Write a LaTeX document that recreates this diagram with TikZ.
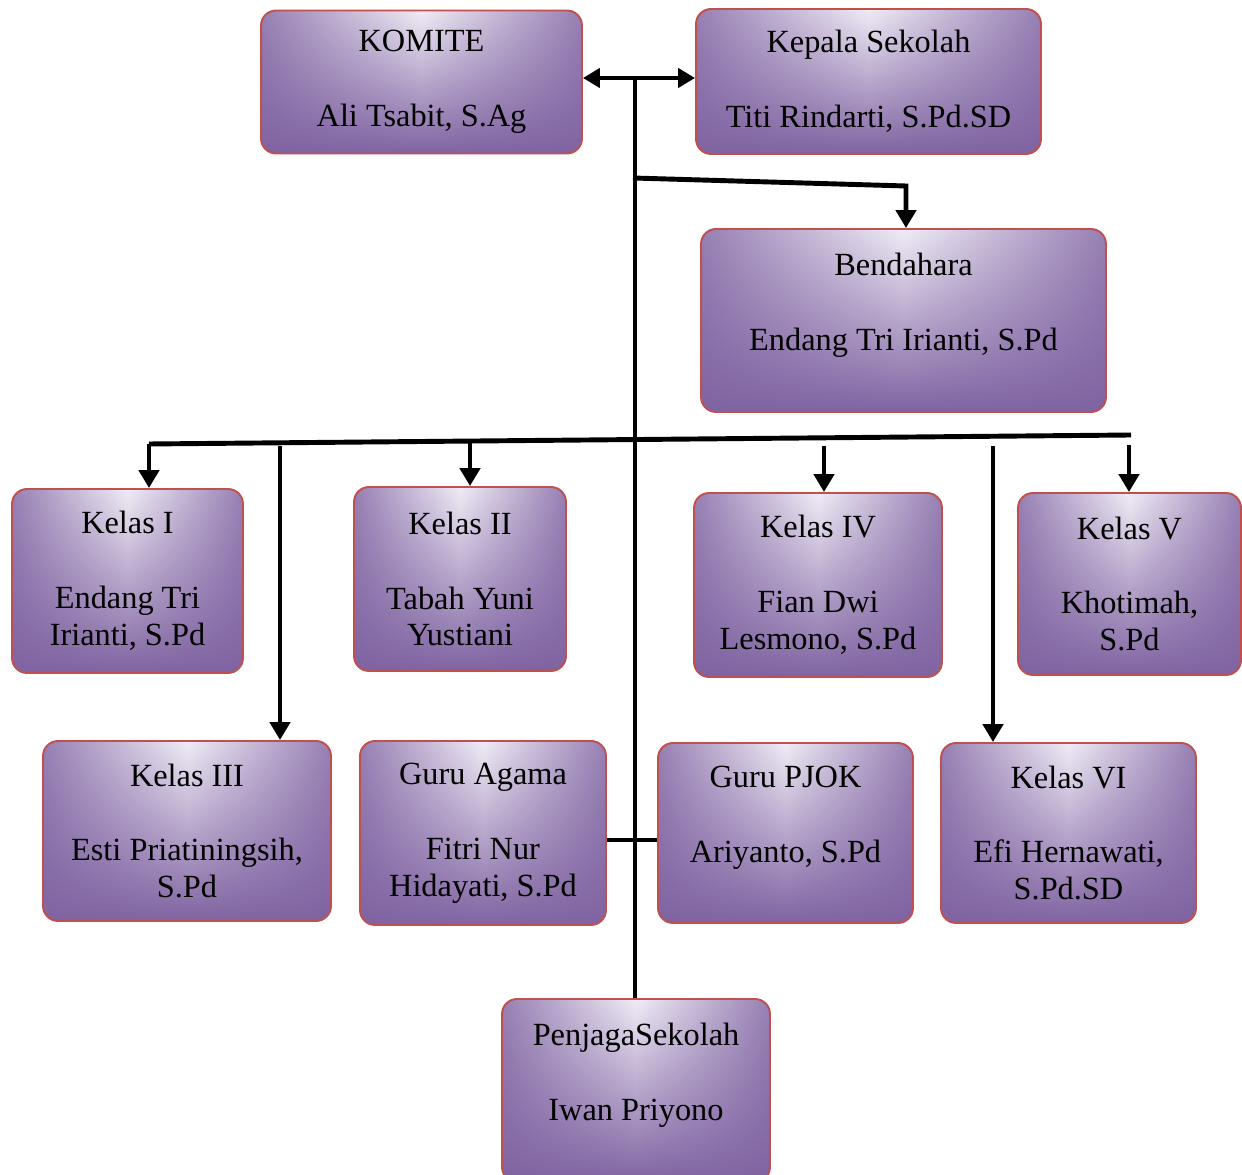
\documentclass[tikz,border=0pt]{standalone}
\usepackage{fontspec}
\setmainfont{Liberation Serif}
\usepackage{xcolor}
\usetikzlibrary{arrows.meta}
\usetikzlibrary{positioning,shapes}
\usetikzlibrary{calc,fadings}
\definecolor{purp}{HTML}{8064A2}
\definecolor{lilac}{HTML}{F0ECF6}
\definecolor{rim}{HTML}{C0504D}
\tikzfading[name=sidefade, left color=transparent!0, right color=transparent!0, middle color=transparent!100]
\begin{document}
\begin{tikzpicture}[x=0.02cm, y=-0.02cm, line width=2.8pt,
		main/.style = {draw=rim, line width=1.1pt, rounded corners=0.3cm, top color=lilac, bottom color=purp,
			align=center, font=\fontsize{18.4}{21}\selectfont, inner sep=0pt,
			path picture={\fill[purp, opacity=0.8, path fading=sidefade, fit fading=true] (path picture bounding box.south west) rectangle (path picture bounding box.north east);}},
		tip/.style = {-{Triangle[length=0.36cm, width=0.4cm]}}]
		\useasboundingbox (0,0) rectangle (1242,1175);
		\node[main, minimum width=6.42cm, minimum height=2.86cm] (komite) at (421.5, 82) {KOMITE\\[0.76cm]Ali Tsabit, S.Ag};
		\node[main, minimum width=6.9cm, minimum height=2.9cm] (kepsek) at (868.5, 81.5) {Kepala Sekolah\\[0.76cm]Titi Rindarti, S.Pd.SD};
		\node[main, minimum width=8.1cm, minimum height=3.66cm] (bendahara) at (903.5, 320.5) {Bendahara\\[0.76cm]Endang Tri Irianti, S.Pd\\\mbox{}};
		\node[main, minimum width=4.62cm, minimum height=3.68cm] (kelas1) at (127.5, 581) {Kelas I\\[0.76cm]Endang Tri\\Irianti, S.Pd};
		\node[main, minimum width=4.24cm, minimum height=3.68cm] (kelas2) at (460, 579) {Kelas II\\[0.76cm]Tabah Yuni\\Yustiani};
		\node[main, minimum width=4.96cm, minimum height=3.68cm] (kelas4) at (818, 585) {Kelas IV\\[0.76cm]Fian Dwi\\Lesmono, S.Pd};
		\node[main, minimum width=4.46cm, minimum height=3.64cm] (kelas5) at (1129.5, 584) {Kelas V\\[0.76cm]Khotimah,\\S.Pd};
		\node[main, minimum width=5.76cm, minimum height=3.6cm] (kelas3) at (187, 831) {Kelas III\\[0.76cm]Esti Priatiningsih,\\S.Pd};
		\node[main, minimum width=4.92cm, minimum height=3.68cm] (agama) at (483, 833) {Guru Agama\\[0.76cm]Fitri Nur\\Hidayati, S.Pd};
		\node[main, minimum width=5.1cm, minimum height=3.6cm] (pjok) at (785.5, 833) {Guru PJOK\\[0.76cm]Ariyanto, S.Pd\\\mbox{}};
		\node[main, minimum width=5.1cm, minimum height=3.6cm] (kelas6) at (1068.5, 833) {Kelas VI\\[0.76cm]Efi Hernawati,\\S.Pd.SD};
		\node[main, minimum width=5.36cm, minimum height=3.66cm] (penjaga) at (636, 1090.5) {PenjagaSekolah\\[0.76cm]Iwan Priyono\\\mbox{}};
		\coordinate (top) at (635, 78);
		\coordinate (b0) at (633, 178);
		\coordinate (b1) at (906, 186);
		\coordinate (h1) at (149, 444);
		\coordinate (h2) at (1131, 435);
		\coordinate (k2) at (470, 442);
		\coordinate (k3) at (280, 446);
		\coordinate (k4) at (824, 446);
		\coordinate (k5) at (1129, 445);
		\coordinate (k6) at (993, 446);
		\draw (top) -- (top |- penjaga.north);
		\draw[{Triangle[length=0.34cm, width=0.38cm]}-{Triangle[length=0.34cm, width=0.38cm]}] (komite.east |- top) -- (kepsek.west |- top);
		\draw[tip] (b0) -- (b1) -- (b1 |- bendahara.north);
		\draw (h1) -- (h2);
		\draw[tip] (h1) -- (h1 |- kelas1.north);
		\draw[tip] (k2) -- (k2 |- kelas2.north);
		\draw[tip] (k3) -- (k3 |- kelas3.north);
		\draw[tip] (k4) -- (k4 |- kelas4.north);
		\draw[tip] (k5) -- (k5 |- kelas5.north);
		\draw[tip] (k6) -- (k6 |- kelas6.north);
		\draw ([yshift=-0.14cm]agama.east) -- ([yshift=-0.14cm]pjok.west);
	\end{tikzpicture}
\end{document}
